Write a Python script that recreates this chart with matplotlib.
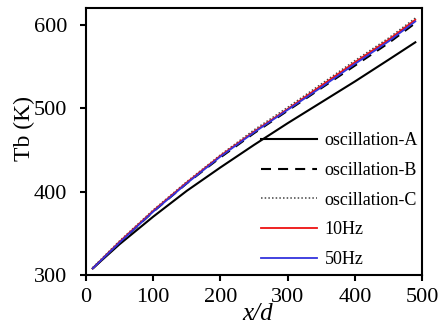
import numpy as np
import matplotlib.pyplot as plt

plt.rcParams['font.family'] = ['Liberation Serif', 'DejaVu Serif']

# x/d positions and bulk temperature (K)
x_d = [10, 50, 100, 150, 200, 250, 300, 350, 400, 450, 490]
tb_osc_a = [308, 337, 370, 401, 429, 456, 482, 507, 532, 558, 579]
tb_osc_b = [308, 339, 376, 410, 441, 470, 497, 524, 551, 578, 602]
tb_osc_c = [309, 341, 378, 412, 444, 474, 501, 529, 557, 584, 608]
tb_10hz = [308, 340, 377, 411, 443, 472, 499, 527, 555, 582, 606]
tb_50hz = [308, 339, 376, 410, 442, 471, 498, 525, 553, 580, 604]

fig = plt.figure(figsize=(4.41, 3.24), dpi=100)
ax = fig.add_axes([0.195, 0.151, 0.762, 0.824])

ax.plot(x_d, tb_osc_a, color='black', lw=1.5, label='oscillation-A')
ax.plot(x_d, tb_osc_b, color='black', lw=1.5, ls=(0, (4.8, 3.4)), label='oscillation-B')
ax.plot(x_d, tb_osc_c, color='#444444', lw=1.1, ls=(0, (1, 1.4)), label='oscillation-C')
ax.plot(x_d, tb_10hz, color='#ee1111', lw=1.3, label='10Hz')
ax.plot(x_d, tb_50hz, color='#3333dd', lw=1.3, label='50Hz')

ax.set_xlim(0, 500)
ax.set_ylim(300, 620)
ax.set_xticks([0, 100, 200, 300, 400, 500])
ax.set_yticks([300, 400, 500, 600])
ax.tick_params(direction='out', length=4.5, width=1.5, labelsize=16, colors='black')
ax.tick_params(axis='y', pad=9)
ax.tick_params(axis='x', pad=4.5)
for s in ax.spines.values():
    s.set_linewidth(1.5)

ax.set_xlabel('x/d', fontsize=18, style='italic')
ax.xaxis.set_label_coords(0.512, -0.105)
ax.set_ylabel('Tb (K)', fontsize=17)
ax.yaxis.set_label_coords(-0.153, 0.549)

ax.legend(loc='lower right', bbox_to_anchor=(1.009, 0.0), borderaxespad=0, frameon=False,
          fontsize=13, handlelength=3.1, handletextpad=0.4, labelspacing=0.7)

fig.savefig('out.png', dpi=100)
